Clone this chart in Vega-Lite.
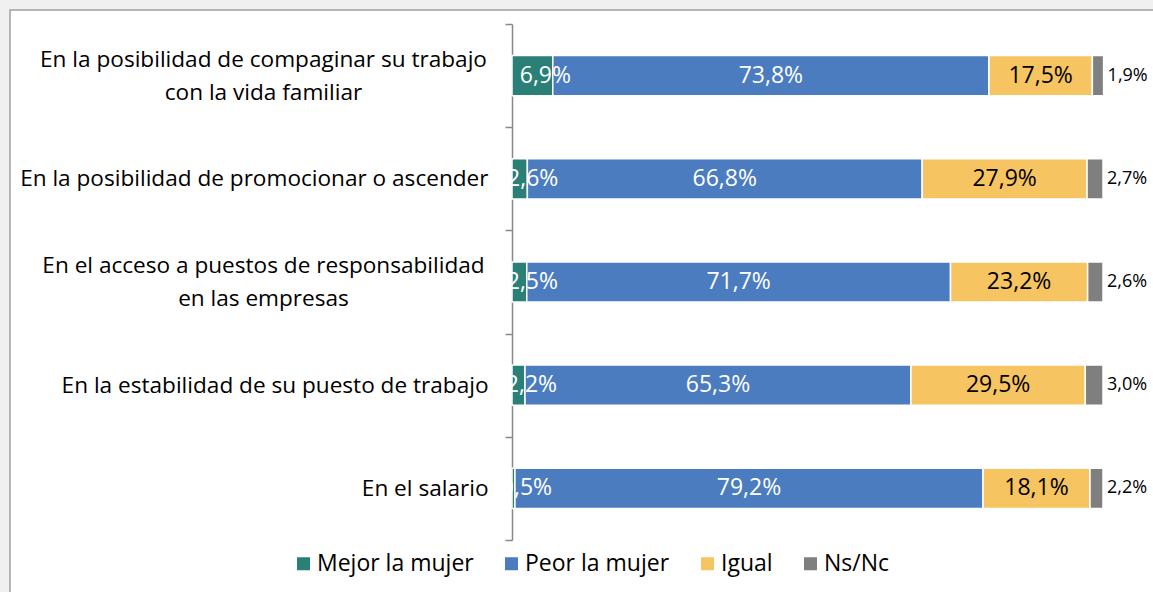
{
  "$schema": "https://vega.github.io/schema/vega-lite/v6.json",
  "autosize": "none",
  "width": 1150,
  "height": 590,
  "padding": {"left": 10, "top": 10, "right": 0, "bottom": 0},
  "background": "#f0f0f0",
  "config": {
    "view": {"fill": "white", "stroke": "#a0a0a0", "strokeWidth": 1.5},
    "font": "Open Sans"
  },
  "data": {
    "values": [
      {"categoria": "En la posibilidad de compaginar su trabajo|con la vida familiar", "serie": "Mejor la mujer", "orden": 1, "valor": 6.9, "etiqueta": "6,9%"},
      {"categoria": "En la posibilidad de compaginar su trabajo|con la vida familiar", "serie": "Peor la mujer", "orden": 2, "valor": 73.8, "etiqueta": "73,8%"},
      {"categoria": "En la posibilidad de compaginar su trabajo|con la vida familiar", "serie": "Igual", "orden": 3, "valor": 17.5, "etiqueta": "17,5%"},
      {"categoria": "En la posibilidad de compaginar su trabajo|con la vida familiar", "serie": "Ns/Nc", "orden": 4, "valor": 1.9, "etiqueta": "1,9%"},
      {"categoria": "En la posibilidad de promocionar o ascender", "serie": "Mejor la mujer", "orden": 1, "valor": 2.6, "etiqueta": "2,6%"},
      {"categoria": "En la posibilidad de promocionar o ascender", "serie": "Peor la mujer", "orden": 2, "valor": 66.8, "etiqueta": "66,8%"},
      {"categoria": "En la posibilidad de promocionar o ascender", "serie": "Igual", "orden": 3, "valor": 27.9, "etiqueta": "27,9%"},
      {"categoria": "En la posibilidad de promocionar o ascender", "serie": "Ns/Nc", "orden": 4, "valor": 2.7, "etiqueta": "2,7%"},
      {"categoria": "En el acceso a puestos de responsabilidad|en las empresas", "serie": "Mejor la mujer", "orden": 1, "valor": 2.5, "etiqueta": "2,5%"},
      {"categoria": "En el acceso a puestos de responsabilidad|en las empresas", "serie": "Peor la mujer", "orden": 2, "valor": 71.7, "etiqueta": "71,7%"},
      {"categoria": "En el acceso a puestos de responsabilidad|en las empresas", "serie": "Igual", "orden": 3, "valor": 23.2, "etiqueta": "23,2%"},
      {"categoria": "En el acceso a puestos de responsabilidad|en las empresas", "serie": "Ns/Nc", "orden": 4, "valor": 2.6, "etiqueta": "2,6%"},
      {"categoria": "En la estabilidad de su puesto de trabajo", "serie": "Mejor la mujer", "orden": 1, "valor": 2.2, "etiqueta": "2,2%"},
      {"categoria": "En la estabilidad de su puesto de trabajo", "serie": "Peor la mujer", "orden": 2, "valor": 65.3, "etiqueta": "65,3%"},
      {"categoria": "En la estabilidad de su puesto de trabajo", "serie": "Igual", "orden": 3, "valor": 29.5, "etiqueta": "29,5%"},
      {"categoria": "En la estabilidad de su puesto de trabajo", "serie": "Ns/Nc", "orden": 4, "valor": 3.0, "etiqueta": "3,0%"},
      {"categoria": "En el salario", "serie": "Mejor la mujer", "orden": 1, "valor": 0.5, "etiqueta": "0,5%"},
      {"categoria": "En el salario", "serie": "Peor la mujer", "orden": 2, "valor": 79.2, "etiqueta": "79,2%"},
      {"categoria": "En el salario", "serie": "Igual", "orden": 3, "valor": 18.1, "etiqueta": "18,1%"},
      {"categoria": "En el salario", "serie": "Ns/Nc", "orden": 4, "valor": 2.2, "etiqueta": "2,2%"}
    ]
  },
  "resolve": {"scale": {"y": "shared"}, "axis": {"y": "independent"}},
  "layer": [
    {
      "mark": {"type": "bar", "stroke": "white", "strokeWidth": 1.5, "height": {"band": 0.39}},
      "encoding": {
        "y": {
          "field": "categoria",
          "type": "nominal",
          "sort": null,
          "scale": {"range": [14, 530], "paddingInner": 0, "paddingOuter": 0},
          "axis": {
            "title": null,
            "orient": "left",
            "offset": -502,
            "domainColor": "#888888",
            "domainWidth": 1.5,
            "tickColor": "#888888",
            "tickWidth": 1.5,
            "tickSize": 7,
            "tickBand": "extent",
            "labelFont": "Open Sans",
            "labelFontSize": 22.6,
            "labelColor": "#000000",
            "labelLimit": 1000,
            "labelAlign": "right",
            "labelPadding": 17,
            "labelExpr": "(datum.value && indexof(datum.value, '|') < 0) ? datum.value : ''",
            "grid": false
          }
        },
        "x": {"field": "valor", "type": "quantitative", "stack": "zero", "scale": {"domain": [0, 100], "range": [502, 1093]}, "axis": null},
        "order": {"field": "orden", "type": "quantitative"},
        "color": {
          "field": "serie",
          "type": "nominal",
          "sort": ["Mejor la mujer", "Peor la mujer", "Igual", "Ns/Nc"],
          "scale": {"domain": ["Mejor la mujer", "Peor la mujer", "Igual", "Ns/Nc"], "range": ["#2a7f76", "#4a7cbf", "#f6c460", "#7f7f7f"]},
          "legend": {
            "title": null,
            "orient": "none",
            "direction": "horizontal",
            "legendX": 282,
            "legendY": 542,
            "symbolType": "square",
            "symbolSize": 169,
            "symbolStrokeWidth": 0,
            "labelFont": "Open Sans",
            "labelFontSize": 23,
            "labelColor": "#000000",
            "labelOffset": 2,
            "columnPadding": 26,
            "labelLimit": 1000
          }
        }
      }
    },
    {
      "mark": {"type": "text", "align": "center", "baseline": "middle", "dx": 13, "fontSize": 23, "color": "white", "font": "Open Sans"},
      "encoding": {
        "y": {
          "field": "categoria",
          "type": "nominal",
          "sort": null,
          "axis": {
            "title": null,
            "orient": "left",
            "offset": -502,
            "domain": false,
            "ticks": true,
            "tickOpacity": 0,
            "tickSize": 7,
            "labelFont": "Open Sans",
            "labelFontSize": 22.6,
            "labelColor": "#000000",
            "labelLimit": 1000,
            "labelAlign": "center",
            "labelPadding": 242,
            "labelOffset": -16,
            "labelLineHeight": 33,
            "labelExpr": "(datum.value && indexof(datum.value, '|') >= 0) ? split(datum.value, '|') : ''",
            "grid": false
          }
        },
        "x": {"field": "valor", "type": "quantitative", "stack": "zero", "bandPosition": 0.5},
        "order": {"field": "orden", "type": "quantitative"},
        "detail": {"field": "serie", "type": "nominal"},
        "text": {"condition": {"test": "datum.serie === 'Mejor la mujer'", "field": "etiqueta"}, "value": ""}
      }
    },
    {
      "mark": {"type": "text", "align": "center", "baseline": "middle", "fontSize": 23, "font": "Open Sans"},
      "encoding": {
        "y": {"field": "categoria", "type": "nominal", "sort": null, "axis": null},
        "x": {"field": "valor", "type": "quantitative", "stack": "zero", "bandPosition": 0.5},
        "order": {"field": "orden", "type": "quantitative"},
        "detail": {"field": "serie", "type": "nominal"},
        "text": {"condition": {"test": "datum.serie === 'Peor la mujer' || datum.serie === 'Igual'", "field": "etiqueta"}, "value": ""},
        "color": {"condition": {"test": "datum.serie === 'Igual'", "value": "black"}, "value": "white"}
      }
    },
    {
      "mark": {"type": "text", "align": "left", "baseline": "middle", "dx": 4, "fontSize": 18, "color": "black", "font": "Open Sans"},
      "encoding": {
        "y": {"field": "categoria", "type": "nominal", "sort": null, "axis": null},
        "x": {"field": "valor", "type": "quantitative", "stack": "zero"},
        "order": {"field": "orden", "type": "quantitative"},
        "detail": {"field": "serie", "type": "nominal"},
        "text": {"condition": {"test": "datum.serie === 'Ns/Nc'", "field": "etiqueta"}, "value": ""}
      }
    }
  ]
}
